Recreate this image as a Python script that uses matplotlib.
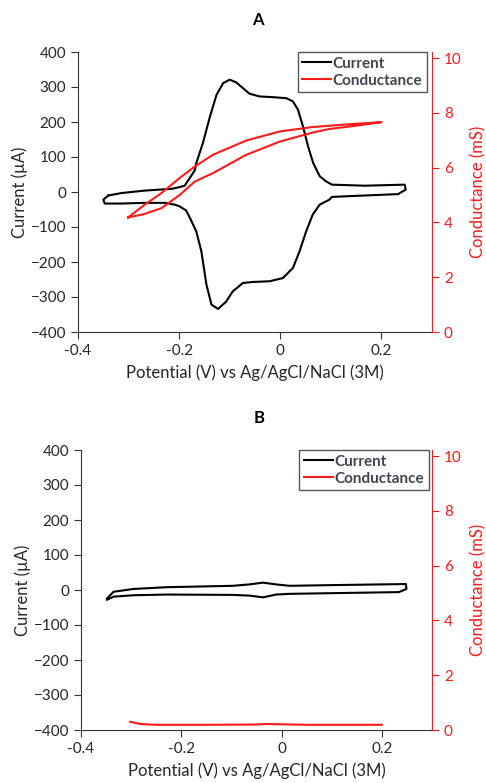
import numpy as np
import matplotlib
matplotlib.use('Agg')
import matplotlib.pyplot as plt

plt.rcParams['font.family'] = ['Lato', 'DejaVu Sans']

# panel A - cyclic voltammogram (forward scan then reverse scan)
a_pot = [-0.340, -0.314, -0.268, -0.215, -0.199, -0.189, -0.179, -0.169, -0.166, -0.153,
         -0.139, -0.126, -0.113, -0.100, -0.087, -0.074, -0.061, -0.041, -0.015, 0.012,
         0.025, 0.035, 0.045, 0.055, 0.065, 0.078, 0.091, 0.102, 0.167, 0.246,
         0.248, 0.233, 0.167, 0.102, 0.097, 0.078, 0.064, 0.051, 0.038, 0.025,
         0.005, -0.021, -0.054, -0.074, -0.094, -0.107, -0.123, -0.136, -0.146, -0.156,
         -0.166, -0.176, -0.186, -0.199, -0.209, -0.228, -0.268, -0.314, -0.347, -0.350,
         -0.340]
a_cur = [-10, -3, 4, 9, 14, 18, 40, 62, 83, 140,
         216, 278, 311, 321, 313, 297, 281, 273, 271, 268,
         259, 235, 187, 130, 83, 45, 30, 21, 18, 21,
         7, -6, -10, -14, -22, -36, -65, -113, -170, -217,
         -246, -255, -257, -260, -284, -313, -334, -322, -265, -170,
         -113, -82, -53, -41, -36, -31, -31, -33, -33, -22,
         -10]
a_gpot = [-0.301, -0.270, -0.235, -0.199, -0.169, -0.133, -0.067, -0.001, 0.064, 0.097,
          0.150, 0.200, 0.150, 0.097, 0.064, -0.001, -0.067, -0.133, -0.169, -0.199,
          -0.235, -0.270, -0.301]
a_cond = [4.18, 4.62, 5.07, 5.62, 6.04, 6.47, 6.99, 7.32, 7.48, 7.53,
          7.60, 7.66, 7.53, 7.41, 7.28, 6.95, 6.47, 5.80, 5.49, 5.00,
          4.52, 4.30, 4.18]

# panel B - blank
b_pot = [-0.348, -0.335, -0.295, -0.229, -0.097, -0.064, -0.037, -0.011, 0.016, 0.102,
         0.248, 0.249, 0.234, 0.102, 0.016, -0.011, -0.037, -0.064, -0.097, -0.229,
         -0.295, -0.335, -0.348]
b_cur = [-24, -5, 3, 8, 12, 16, 21, 16, 12, 14,
         17, 3, -6, -9, -11, -13, -21, -16, -14, -13,
         -15, -19, -28]
b_gpot = [-0.302, -0.282, -0.250, -0.150, -0.050, -0.030, 0.050, 0.200]
b_cond = [0.30, 0.22, 0.19, 0.19, 0.20, 0.22, 0.19, 0.19]

panels = [('A', a_pot, a_cur, a_gpot, a_cond, [78/486, 451/783, 354/486, 280/783], 20, 0.986),
          ('B', b_pot, b_cur, b_gpot, b_cond, [81/486, 53/783, 351/486, 280/783], 418, 0.991)]

fig = plt.figure(figsize=(4.86, 7.83), dpi=100)
txt = '#262626'
red = '#ff1a1a'

for name, pot, cur, gpot, cond, rect, ty, lx in panels:
    ax = fig.add_axes(rect)
    ax2 = ax.twinx()
    l1, = ax.plot(pot, cur, color='black', lw=1.5, label='Current')
    l2, = ax2.plot(gpot, cond, color=red, lw=1.5, label='Conductance')
    ax.set_xlim(-0.4, 0.3)
    ax.set_ylim(-400, 400)
    ax2.set_ylim(0, 10.22)
    ax.set_xticks([-0.4, -0.2, 0, 0.2])
    ax.set_xticklabels(['-0.4', '-0.2', '0', '0.2'])
    ax.set_yticks(range(-400, 401, 100))
    ax2.set_yticks(range(0, 11, 2))
    for s in ['top', 'right']:
        ax.spines[s].set_visible(False)
    for s in ['top', 'left', 'bottom']:
        ax2.spines[s].set_visible(False)
    ax.spines['left'].set_color('#333333')
    ax.spines['bottom'].set_color('#333333')
    ax2.spines['right'].set_color(red)
    ax.tick_params(colors='#333333', labelcolor=txt, labelsize=11, length=5, direction='out')
    ax2.tick_params(colors=red, labelcolor=red, labelsize=11, length=5, direction='out')
    ax.set_xlabel('Potential (V) vs Ag/AgCl/NaCl (3M)', fontsize=12, color=txt, labelpad=5)
    ax.set_ylabel('Current (µA)', fontsize=12, color=txt, labelpad=2)
    ax2.set_ylabel('Conductance (mS)', fontsize=12, color=red, labelpad=6)
    leg = ax.legend([l1, l2], ['Current', 'Conductance'], loc='upper right',
                    bbox_to_anchor=(lx, 1.0), borderaxespad=0, fancybox=False, framealpha=1,
                    edgecolor='#555555', handlelength=1.9, handletextpad=0.1,
                    borderpad=0.3, labelspacing=0.2,
                    prop={'weight': 'bold', 'size': 11})
    for t in leg.get_texts():
        t.set_color('#404550')
    fig.text(rect[0] + rect[2] / 2 + 0.005, 1 - ty / 783, name, ha='center', va='center',
             fontsize=12, fontweight='bold', color='black')

fig.savefig('out.png', dpi=100)
